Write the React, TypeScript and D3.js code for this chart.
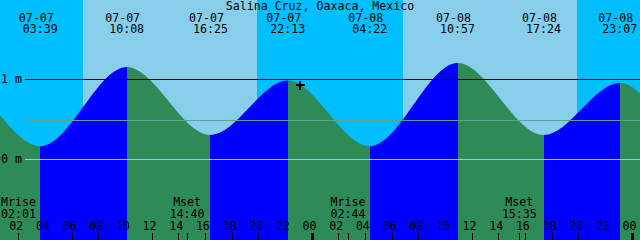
import React from "react";
import * as d3 from "d3";

const TITLE = "Salina Cruz, Oaxaca, Mexico";
const YEAR = "2024";
const START = "07-07 00:38";
const END = "07-09 00:38";

// tide extremes (the first two and last two lie outside the visible window)
const tideTimes = [
  "07-06 15:35",
  "07-06 21:25",
  "07-07 03:39",
  "07-07 10:08",
  "07-07 16:25",
  "07-07 22:13",
  "07-08 04:22",
  "07-08 10:57",
  "07-08 17:24",
  "07-08 23:07",
  "07-09 05:10",
  "07-09 11:45",
];
const tideLevels = [0.3, 0.97, 0.16, 1.15, 0.3, 0.98, 0.16, 1.2, 0.3, 0.95, 0.14, 1.2];

const sunriseTimes = ["07-07 06:52", "07-08 06:52"];
const sunsetTimes = ["07-07 19:55", "07-08 19:55"];

const moonNames = ["Mrise", "Mset", "Mrise", "Mset"];
const moonTimes = ["07-07 02:01", "07-07 14:40", "07-08 02:44", "07-08 15:35"];

const levelTicks = [0, 1];
const levelTickLabels = ["0 m", "1 m"];
const MEAN_LEVEL = 0.49;

const NOW_TIME = "07-07 23:08";
const NOW_LEVEL = 0.93;

const W = 640;
const H = 240;
const FONT = "'DejaVu Sans Mono', monospace";
const FS = 11.6;

const COLORS = {
  night: "#00BFFF",
  day: "#87CEEB",
  rising: "#0000FF",
  falling: "#2E8B57",
  datum: "#80D4E6",
  mean: "#5F9F9A",
  text: "#000000",
};

const parse = d3.utcParse("%Y-%m-%d %H:%M");
const P = (s: string) => parse(`${YEAR}-${s}`) as Date;

export default function App() {
  const x = d3.scaleUtc().domain([P(START), P(END)]).range([0, W]);
  const y = d3.scaleLinear().domain([0, 1]).range([159, 79]);

  const tides = tideTimes.map((t, i) => ({ t: P(t), v: tideLevels[i] }));

  const area = d3
    .area<{ t: Date; v: number }>()
    .x((d) => x(d.t))
    .y0(H)
    .y1((d) => y(d.v))
    .curve(d3.curveMonotoneX);

  // sky periods
  const [d0, d1] = x.domain();
  const sky: { a: Date; b: Date; day: boolean }[] = [];
  let prev = d0;
  sunriseTimes.forEach((sr, i) => {
    sky.push({ a: prev, b: P(sr), day: false });
    sky.push({ a: P(sr), b: P(sunsetTimes[i]), day: true });
    prev = P(sunsetTimes[i]);
  });
  sky.push({ a: prev, b: d1, day: false });

  const hourTicks = x.ticks(d3.utcHour.every(2) as any);
  const fmtH = d3.utcFormat("%H");
  const fmtDate = d3.utcFormat("%m-%d");
  const fmtTime = d3.utcFormat("%H:%M");

  const visibleTides = tides.filter((d) => d.t >= d0 && d.t <= d1);

  const nowX = Math.round(x(P(NOW_TIME)));
  const nowY = Math.round(y(NOW_LEVEL));

  return (
    <svg
      width={W}
      height={H}
      style={{ position: "absolute", left: 0, top: 0, display: "block" }}
      fontFamily={FONT}
      fontSize={FS}
    >
      <defs>
        <clipPath id="water">
          <path d={area(tides) || ""} />
        </clipPath>
      </defs>

      {sky.map((s, i) => (
        <rect
          key={"sky" + i}
          x={Math.round(x(s.a))}
          y={0}
          width={Math.round(x(s.b)) - Math.round(x(s.a))}
          height={H}
          fill={s.day ? COLORS.day : COLORS.night}
          shapeRendering="crispEdges"
        />
      ))}

      <g clipPath="url(#water)">
        {tides.slice(0, -1).map((d, i) => {
          const n = tides[i + 1];
          const x0 = Math.round(x(d.t));
          const x1 = Math.round(x(n.t));
          return (
            <rect
              key={"w" + i}
              x={x0}
              y={0}
              width={x1 - x0}
              height={H}
              fill={n.v > d.v ? COLORS.rising : COLORS.falling}
              shapeRendering="crispEdges"
            />
          );
        })}
      </g>

      {/* level lines */}
      <line
        x1={25}
        x2={W}
        y1={Math.round(y(MEAN_LEVEL)) + 0.5}
        y2={Math.round(y(MEAN_LEVEL)) + 0.5}
        stroke={COLORS.mean}
        strokeWidth={1}
        shapeRendering="crispEdges"
      />
      {levelTicks.map((v, i) => (
        <g key={"lv" + i}>
          <line
            x1={25}
            x2={W}
            y1={Math.round(y(v)) + 0.5}
            y2={Math.round(y(v)) + 0.5}
            stroke={v === 0 ? COLORS.datum : "#000"}
            strokeWidth={1}
            shapeRendering="crispEdges"
          />
          <text x={1} y={Math.round(y(v)) + 4} fill={COLORS.text}>
            {levelTickLabels[i]}
          </text>
        </g>
      ))}

      {/* title */}
      <text x={W / 2} y={10} textAnchor="middle" fill={COLORS.text}>
        {TITLE}
      </text>

      {/* tide event labels */}
      {visibleTides.map((d, i) => (
        <g key={"ev" + i} fill={COLORS.text} textAnchor="middle">
          <text x={x(d.t) - 4} y={22}>
            {fmtDate(d.t)}
          </text>
          <text x={x(d.t)} y={33}>
            {fmtTime(d.t)}
          </text>
        </g>
      ))}

      {/* moon labels */}
      {moonTimes.map((m, i) => {
        const t = P(m);
        return (
          <g key={"moon" + i} fill={COLORS.text} textAnchor="middle">
            <text x={x(t)} y={206}>
              {moonNames[i]}
            </text>
            <text x={x(t)} y={218}>
              {fmtTime(t)}
            </text>
            <rect
              x={Math.round(x(t))}
              y={233}
              width={1}
              height={7}
              fill="#000"
              shapeRendering="crispEdges"
            />
          </g>
        );
      })}

      {/* hour ticks */}
      {hourTicks.map((t, i) => {
        const xi = Math.round(x(t));
        const midnight = t.getUTCHours() === 0;
        return (
          <g key={"ht" + i}>
            <text
              x={x(t) - 2}
              y={230}
              textAnchor="middle"
              fill={COLORS.text}
            >
              {fmtH(t)}
            </text>
            <rect
              x={midnight ? xi - 1 : xi}
              y={233}
              width={midnight ? 3 : 1}
              height={7}
              fill="#000"
              shapeRendering="crispEdges"
            />
          </g>
        );
      })}

      {/* current time marker */}
      <g stroke="#000" strokeWidth={2} shapeRendering="crispEdges">
        <line x1={nowX - 4} x2={nowX + 5} y1={nowY} y2={nowY} />
        <line x1={nowX} x2={nowX} y1={nowY - 4} y2={nowY + 5} />
      </g>
    </svg>
  );
}
